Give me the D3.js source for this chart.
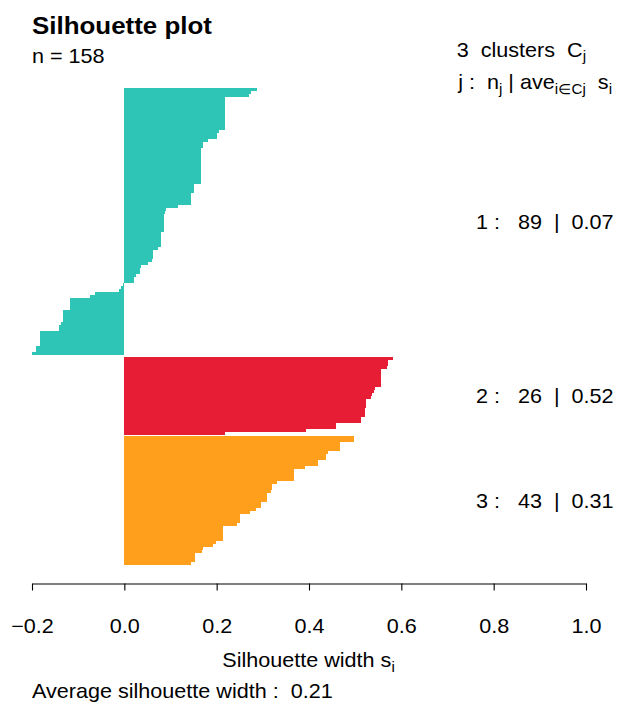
<!DOCTYPE html>
<html><head><meta charset="utf-8">
<script src="https://cdn.jsdelivr.net/npm/d3@7"></script>
<style>
body{margin:0;background:#fff}
svg text{font-family:"Liberation Sans",Arial,Helvetica,sans-serif;white-space:pre;fill:#000}
</style></head><body>
<svg id="c" width="617" height="704"></svg>
<script>
// ---- data ----
const clusterIds = [1, 2, 3];
const clusterColors = ["#2EC4B6", "#E71D36", "#FF9F1C"];
const cluster1 = [0.288,0.275,0.271,
  0.219,0.219,0.219,0.219,0.219,0.219,0.219,0.219,0.219,0.219,0.219,
  0.206,0.200,0.200,0.182,0.171,0.171,
  0.167,0.167,0.167,0.167,0.167,0.167,0.167,0.167,0.167,
  0.165,0.165,0.165,0.150,0.150,0.150,0.145,0.145,0.145,0.145,
  0.117,0.091,0.089,0.085,0.085,0.085,0.085,0.085,0.085,
  0.080,0.080,0.080,0.080,0.080,0.072,0.063,0.063,0.063,0.061,0.052,
  0.037,0.035,0.035,0.026,0.022,0.022,
  -0.002,-0.007,-0.011,-0.063,-0.074,
  -0.117,-0.117,-0.117,-0.117,-0.132,-0.132,-0.132,-0.132,-0.137,
  -0.141,-0.141,-0.182,-0.182,-0.182,-0.182,-0.182,-0.191,-0.191,-0.201];
const cluster2 = [0.581,0.572,0.572,0.568,0.557,
  0.555,0.555,0.555,0.555,0.555,0.544,0.540,0.537,0.535,
  0.524,0.524,0.524,0.522,0.522,0.522,0.513,0.513,0.459,0.459,0.394,0.219];
const cluster3 = [0.498,0.498,0.468,0.468,0.468,0.442,0.436,0.436,0.420,0.420,
  0.392,0.368,0.368,0.368,0.368,0.331,0.320,0.320,0.318,0.310,0.310,0.310,
  0.297,0.297,0.286,0.273,0.251,0.251,0.251,0.245,
  0.214,0.214,0.214,0.214,0.214,0.199,0.193,0.171,0.169,0.154,0.154,0.154,0.145];
const xTicks = [-0.2, 0.0, 0.2, 0.4, 0.6, 0.8, 1.0];
const titleText = "Silhouette plot";
const xLabelText = "Silhouette width s";
const subPrefix = "Average silhouette width :  ";

// ---- layout ----
const clusters = [cluster1, cluster2, cluster3];
const gapUnits = 0.5;
const SX = 1.08; // horizontal text stretch of the reference
const svg = d3.select("#c");
const x = d3.scaleLinear().domain([-0.2, 1.0]).range([32, 586]);
const nTot = d3.sum(clusters, c => c.length);
const totUnits = nTot + gapUnits * (clusters.length - 1);
const y = d3.scaleLinear().domain([0, totUnits]).range([88, 565]);

const rows = [];
let pos = 0;
clusters.forEach((vals, ci) => {
  if (ci > 0) pos += gapUnits;
  vals.forEach(v => { rows.push({ci, v, pos}); pos += 1; });
});

svg.append("g").selectAll("rect").data(rows).join("rect")
  .attr("x", d => x(Math.min(0, d.v)))
  .attr("width", d => Math.abs(x(d.v) - x(0)))
  .attr("y", d => y(d.pos))
  .attr("height", d => y(d.pos + 1) - y(d.pos))
  .attr("fill", d => clusterColors[d.ci])
  .attr("shape-rendering", "crispEdges");

function txt(xp, yp, size, anchor, weight) {
  return svg.append("text")
    .attr("transform", `translate(${xp},${yp}) scale(${SX},1)`)
    .attr("font-size", size).attr("text-anchor", anchor || "start")
    .attr("font-weight", weight || "normal");
}
function sub(t, s, dy) {
  t.append("tspan").attr("font-size", 14).attr("dy", dy).text(s);
}

txt(32, 34, 24, "start", "bold").text(titleText);
txt(32, 63, 20).text("n = " + nTot);

const t1 = txt(586, 56.5, 20, "end");
t1.append("tspan").text(clusters.length + "  clusters  C");
sub(t1, "j", 4.5);

const t2 = txt(612, 89, 20, "end");
t2.append("tspan").text("j :  n");
sub(t2, "j", 4.5);
t2.append("tspan").attr("dy", -4.5).text(" | ave");
sub(t2, "i\u2208Cj", 4.5);
t2.append("tspan").attr("dy", -4.5).text("  s");
sub(t2, "i", 4.5);

// cluster statistics labels
const fmt2 = d3.format(".2f");
clusters.forEach((vals, ci) => {
  const rs = rows.filter(r => r.ci === ci);
  const yc = (y(rs[0].pos) + y(rs[rs.length - 1].pos + 1)) / 2;
  const label = clusterIds[ci] + " :   " + vals.length + "  |  " + fmt2(d3.mean(vals));
  const t = txt(0, 0, 20).text(label);
  const w = t.node().getComputedTextLength() * SX;
  t.attr("transform", `translate(${x(1) - 0.8 * w},${yc + 7}) scale(${SX},1)`);
});

// axis
const ax = svg.append("g").attr("transform", "translate(0,583.5)")
  .call(d3.axisBottom(x).tickValues(xTicks).tickSize(7).tickSizeOuter(0)
    .tickFormat(d3.format(".1f")));
ax.select(".domain").attr("stroke", "#000").attr("stroke-width", 1.1);
ax.selectAll(".tick line").attr("stroke", "#000").attr("stroke-width", 1.1);
ax.selectAll(".tick text").attr("y", 0).attr("dy", 0)
  .attr("transform", `translate(0,49) scale(${SX},1)`)
  .attr("font-size", 20).attr("font-family", null).attr("fill", "#000");

const xl = txt(308.5, 667, 20, "middle");
xl.append("tspan").text(xLabelText);
sub(xl, "i", 4.5);

const overall = d3.mean(clusters.flat());
txt(32, 698, 20).text(subPrefix + fmt2(overall));
</script>
</body></html>
